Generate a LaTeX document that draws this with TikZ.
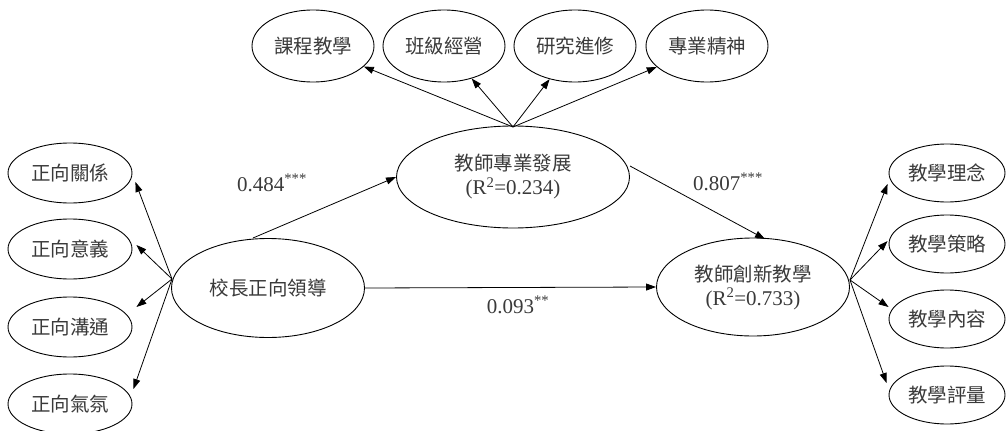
\documentclass[tikz,border=0pt]{standalone}
\usepackage{fontspec}
\setmainfont{Liberation Serif}
\newfontfamily\cjk{Noto Sans CJK TC}
\usetikzlibrary{shapes.geometric,arrows.meta,calc}
\definecolor{txt}{HTML}{3A3A3A}
\tikzset{
  el/.style={draw=black, line width=0.9pt, ellipse, inner sep=0pt, text=txt,
    font=\cjk\fontsize{19.5}{24}\selectfont, align=center},
  small/.style={el, minimum width=124pt, minimum height=60pt},
  rsmall/.style={el, minimum width=116pt, minimum height=58pt},
  top/.style={el, minimum width=122pt, minimum height=72pt},
  big/.style={el},
  arr/.style={line width=0.8pt, -{Triangle[length=10pt,width=7pt]}},
  lab/.style={text=txt, font=\fontsize{21}{24}\selectfont},
  rtxt/.style={font=\rmfamily\fontsize{21}{24}\selectfont}
}
\begin{document}
\begin{tikzpicture}[x=1pt,y=-1pt]
\useasboundingbox (0,0) rectangle (1007,431);
% left column
\node[small] (l1) at (70,173) {正向關係};
\node[small] (l2) at (70,249) {正向意義};
\node[small] (l3) at (70,327) {正向溝通};
\node[small] (l4) at (70,404) {正向氣氛};
% main constructs
\node[big, minimum width=193pt, minimum height=99pt] (ld) at (268,288) {校長正向領導};
\node[big, minimum width=233pt, minimum height=102pt] (pd) at (513,177) {教師專業發展\\{\rmfamily\fontsize{21}{24}\selectfont(R\textsuperscript{2}=0.234)}};
\node[big, minimum width=193pt, minimum height=98pt] (ie) at (753,287) {教師創新教學\\{\rmfamily\fontsize{21}{24}\selectfont(R\textsuperscript{2}=0.733)}};
% top row
\node[top] (t1) at (313,46) {課程教學};
\node[top] (t2) at (444,46) {班級經營};
\node[top] (t3) at (575,46) {研究進修};
\node[top] (t4) at (707,46) {專業精神};
% right column
\node[rsmall] (r1) at (947,173) {教學理念};
\node[rsmall] (r2) at (947,244) {教學策略};
\node[rsmall] (r3) at (947,319) {教學內容};
\node[rsmall] (r4) at (947,395) {教學評量};
% fans
\coordinate (lo) at (172,279);
\draw[arr] (lo) -- ($(l1.east)+(3,9)$);
\draw[arr] (lo) -- ($(l2.east)+(4,-4)$);
\draw[arr] (lo) -- ($(l3.east)+(4,-20)$);
\draw[arr] (lo) -- ($(l4.east)+(1,-15)$);
\coordinate (to) at (513,127);
\foreach \n in {t1,t2,t3,t4} \draw[arr] (to) -- (\n);
\coordinate (ro) at (850,280);
\draw[arr] (ro) -- ($(r1.west)+(-1,11)$);
\draw[arr] (ro) -- ($(r2.west)+(-1,-3)$);
\draw[arr] (ro) -- ($(r3.west)+(0,-12)$);
\draw[arr] (ro) -- ($(r4.west)+(-2,-12)$);
% structural paths
\coordinate (ldtop) at (253,238);
\draw[arr] (ldtop) -- (pd.west);
\coordinate (pdr) at (630,166);
\coordinate (ietop) at (765,239);
\draw[arr] (pdr) -- (ietop);
\draw[arr] (ld.east) -- (ie.west);
% labels
\node[lab] (a1) at (272,183) {0.484\textsuperscript{***}};
\node[lab] (a2) at (728,182) {0.807\textsuperscript{***}};
\node[lab] (a3) at (518,305) {0.093\textsuperscript{**}};
\end{tikzpicture}
\end{document}
